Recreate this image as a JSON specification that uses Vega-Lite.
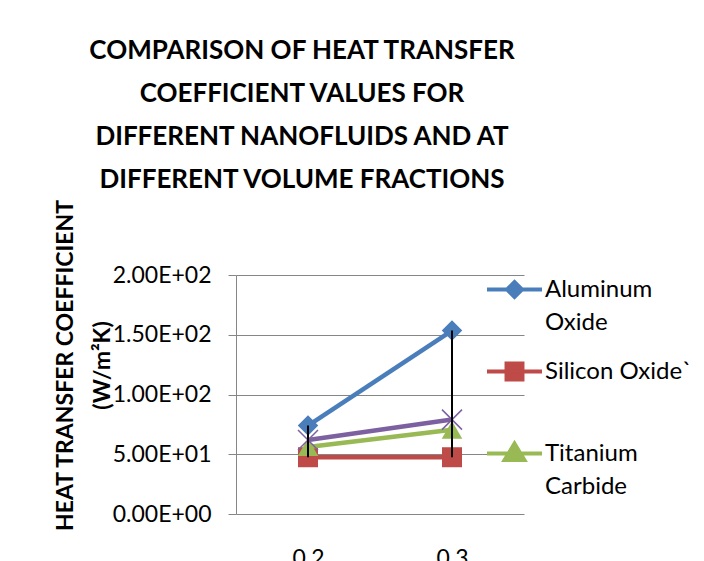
{
  "$schema": "https://vega.github.io/schema/vega-lite/v6.json",
  "width": 288,
  "height": 239,
  "autosize": {"type": "none"},
  "padding": {"left": 236, "top": 275, "right": 180, "bottom": 47},
  "background": "white",
  "title": {
    "text": ["COMPARISON OF HEAT TRANSFER", "COEFFICIENT VALUES FOR", "DIFFERENT NANOFLUIDS AND AT", "DIFFERENT VOLUME FRACTIONS"],
    "font": "Lato",
    "fontSize": 26,
    "fontWeight": "bold",
    "color": "black",
    "lineHeight": 43,
    "anchor": "middle",
    "frame": "group",
    "dx": -78,
    "offset": 6
  },
  "data": {
    "values": [
      {"series": "Aluminum Oxide", "x": "0.2", "value": 74},
      {"series": "Aluminum Oxide", "x": "0.3", "value": 153.5},
      {"series": "Silicon Oxide`", "x": "0.2", "value": 47.5},
      {"series": "Silicon Oxide`", "x": "0.3", "value": 47.5},
      {"series": "Titanium Carbide", "x": "0.2", "value": 56},
      {"series": "Titanium Carbide", "x": "0.3", "value": 70.5},
      {"series": "Series4", "x": "0.2", "value": 62},
      {"series": "Series4", "x": "0.3", "value": 79}
    ]
  },
  "encoding": {
    "x": {
      "field": "x",
      "type": "ordinal",
      "scale": {"type": "point", "padding": 0.5, "domain": ["0.2", "0.3"]},
      "axis": {
        "title": null,
        "labelAngle": 0,
        "ticks": false,
        "labelPadding": 33,
        "labelBaseline": "top",
        "labelFont": "Lato",
        "labelFontSize": 23,
        "labelColor": "black",
        "domain": false,
        "grid": false
      }
    },
    "y": {
      "field": "value",
      "type": "quantitative",
      "scale": {"domain": [0, 200], "nice": false, "zero": true},
      "axis": {
        "values": [0, 50, 100, 150, 200],
        "labelExpr": "datum.value == 0 ? '0.00E+00' : datum.value < 100 ? format(datum.value/10, '.2f') + 'E+01' : format(datum.value/100, '.2f') + 'E+02'",
        "labelFont": "Lato",
        "labelFontSize": 23,
        "labelColor": "black",
        "labelPadding": 17,
        "tickSize": 8,
        "tickColor": "#868686",
        "domainColor": "#868686",
        "gridColor": "#868686",
        "gridWidth": 1,
        "domainWidth": 1,
        "title": ["HEAT TRANSFER COEFFICIENT", "(W/m²K)"],
        "titleFont": "Lato",
        "titleFontSize": 23,
        "titleFontWeight": "bold",
        "titleColor": "black",
        "titleLineHeight": 37,
        "titleAngle": -90,
        "titleAlign": "center",
        "titleBaseline": "middle",
        "titleX": -171,
        "titleY": 90
      }
    }
  },
  "layer": [
    {
      "transform": [{"filter": "datum.series == 'Aluminum Oxide'"}],
      "mark": {"type": "line", "strokeWidth": 4.5, "color": "#4A7EBB", "point": {"shape": "diamond", "filled": true, "size": 420, "opacity": 1, "color": "#4A7EBB"}}
    },
    {
      "transform": [{"filter": "datum.series == 'Silicon Oxide`'"}],
      "mark": {"type": "line", "strokeWidth": 4.5, "color": "#BE4B48", "point": {"shape": "square", "filled": true, "size": 400, "opacity": 1, "color": "#BE4B48"}}
    },
    {
      "transform": [{"filter": "datum.series == 'Titanium Carbide'"}],
      "mark": {"type": "line", "strokeWidth": 4.5, "color": "#98B954", "point": {"shape": "triangle-up", "filled": true, "size": 420, "opacity": 1, "color": "#98B954"}}
    },
    {
      "transform": [{"filter": "datum.series == 'Series4'"}],
      "mark": {"type": "line", "strokeWidth": 4.5, "color": "#7D60A0", "point": {"shape": "M-1,-1L1,1M-1,1L1,-1", "filled": false, "size": 400, "opacity": 1, "stroke": "#7D60A0", "strokeWidth": 1.5}}
    },
    {
      "mark": {"type": "rule", "color": "black", "strokeWidth": 2},
      "encoding": {
        "x": {"field": "x", "type": "ordinal"},
        "y": {"aggregate": "min", "field": "value", "type": "quantitative"},
        "y2": {"aggregate": "max", "field": "value"}
      }
    },
    {
      "transform": [{"filter": "datum.series == 'none'"}],
      "mark": {"type": "point", "filled": true, "opacity": 1},
      "encoding": {
        "fill": {
          "field": "series",
          "type": "nominal",
          "scale": {"domain": ["Aluminum Oxide", "Silicon Oxide`", "Titanium Carbide", "Series4"], "range": ["#4A7EBB", "#BE4B48", "#98B954", "#7D60A0"]},
          "legend": {
            "orient": "none",
            "legendX": 249,
            "legendY": -15,
            "padding": 0,
            "title": null,
            "symbolSize": 3025,
            "symbolStrokeWidth": 4,
            "labelFont": "Lato",
            "labelFontSize": 24,
            "labelColor": "black",
            "labelLimit": 300,
            "labelOffset": 1,
            "rowPadding": 7,
            "values": ["Aluminum Oxide", "Silicon Oxide`", "Titanium Carbide"],
            "labelExpr": "datum.label == 'Aluminum Oxide' ? ['Aluminum', 'Oxide'] : datum.label == 'Titanium Carbide' ? ['Titanium', 'Carbide'] : [datum.label, ' ']",
            "encode": {"labels": {"update": {"lineHeight": {"value": 33}}}}
          }
        },
        "stroke": {
          "field": "series",
          "type": "nominal",
          "scale": {"domain": ["Aluminum Oxide", "Silicon Oxide`", "Titanium Carbide", "Series4"], "range": ["#4A7EBB", "#BE4B48", "#98B954", "#7D60A0"]}
        },
        "shape": {
          "field": "series",
          "type": "nominal",
          "scale": {
            "domain": ["Aluminum Oxide", "Silicon Oxide`", "Titanium Carbide", "Series4"],
            "range": [
              "M-1,0H-0.27L0,-0.27L0.27,0H1M0.27,0L0,0.27L-0.27,0Z",
              "M-1,0H-0.29V-0.29H0.29V0H1M0.29,0V0.29H-0.29V0Z",
              "M-1,0H-0.216L0,-0.36L0.216,0H1M0.216,0L0.36,0.24H-0.36L-0.216,0Z",
              "M-1,-1L1,1M-1,1L1,-1"
            ]
          }
        }
      }
    }
  ],
  "config": {
    "view": {"stroke": null},
    "style": {"guide-label": {"lineHeight": 33}}
  }
}
